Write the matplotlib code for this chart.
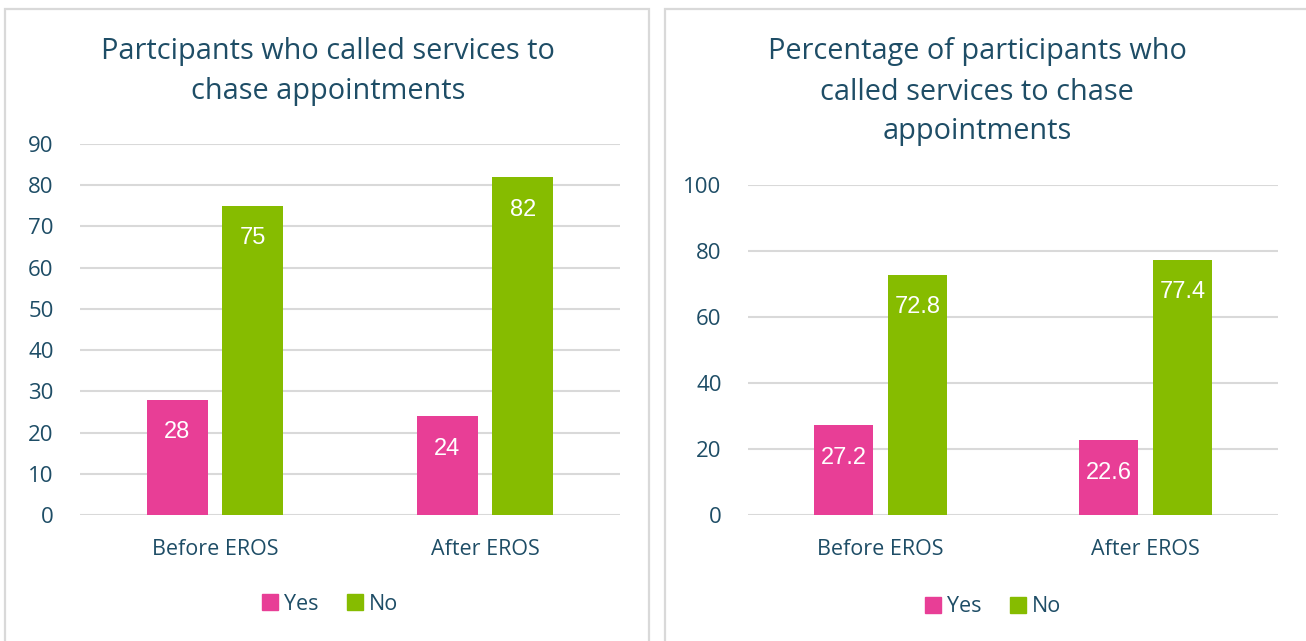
import matplotlib
matplotlib.use('Agg')
import matplotlib.pyplot as plt
from matplotlib.patches import Rectangle, Patch
import numpy as np

plt.rcParams['font.family'] = ['Open Sans', 'DejaVu Sans']

categories = ['Before EROS', 'After EROS']
series = ['Yes', 'No']
counts_yes = [28, 24]
counts_no = [75, 82]
pct_yes = [27.2, 22.6]
pct_no = [72.8, 77.4]

title_left = 'Partcipants who called services to\nchase appointments'
title_right = 'Percentage of participants who\ncalled services to chase\nappointments'
ticks_left = list(range(0, 91, 10))
ticks_right = list(range(0, 101, 20))

PINK = '#E83E96'
GREEN = '#86BC00'
TEXT = '#1E4D66'
GRID = '#D9D9D9'

W, H = 1306, 641
fig = plt.figure(figsize=(W / 100, H / 100), dpi=100)

# panel borders
for x0, x1 in [(5, 649), (665, 1312)]:
    fig.patches.append(Rectangle((x0 / W, -0.05), (x1 - x0) / W, 1.05 - 9 / H,
                                 transform=fig.transFigure, fill=False,
                                 edgecolor=GRID, lw=1.6))


def draw(ax, yes, no, ticks, ylim, fmt):
    x = np.arange(len(categories))
    w = 0.225
    b1 = ax.bar(x - 0.14, yes, w, color=PINK, label=series[0], zorder=3)
    b2 = ax.bar(x + 0.14, no, w, color=GREEN, label=series[1], zorder=3)
    for bars in (b1, b2):
        for r in bars:
            ax.annotate(fmt.format(r.get_height()),
                        (r.get_x() + r.get_width() / 2, r.get_height()),
                        xytext=(0, -23.5), textcoords='offset points',
                        ha='center', va='center', color='white',
                        fontsize=17, family=['Liberation Sans'], zorder=4)
    ax.set_xlim(-0.5, 1.5)
    ax.set_ylim(*ylim)
    ax.set_yticks(ticks)
    ax.set_xticks(x)
    ax.set_xticklabels(categories)
    ax.grid(axis='y', color=GRID, lw=1.5, zorder=0)
    for s in ax.spines.values():
        s.set_visible(False)
    ax.tick_params(axis='y', length=0, pad=19, labelsize=16, labelcolor=TEXT)
    ax.tick_params(axis='x', length=0, pad=17.5, labelsize=15.5, labelcolor=TEXT)


ax1 = fig.add_axes([80 / W, 1 - 515 / H, 540 / W, 371 / H])
draw(ax1, counts_yes, counts_no, ticks_left, (0, 90), '{:.0f}')
ax2 = fig.add_axes([748 / W, 1 - 515 / H, 530 / W, 330 / H])
draw(ax2, pct_yes, pct_no, ticks_right, (0, 100), '{:.1f}')

fig.text(328 / W, 1 - 72 / H, title_left, ha='center', va='center',
         fontsize=20.8, color=TEXT, linespacing=1.5)
fig.text(977 / W, 1 - 92 / H, title_right, ha='center', va='center',
         fontsize=20.8, color=TEXT, linespacing=1.5)

handles = [Patch(color=PINK, label='Yes'), Patch(color=GREEN, label='No')]
for cx, cy in [(330, 604), (993, 607)]:
    fig.legend(handles=handles, loc='center', bbox_to_anchor=(cx / W, 1 - cy / H),
               ncol=2, frameon=False, fontsize=15.5, labelcolor=TEXT,
               handlelength=0.75, handleheight=0.75, handletextpad=0.3,
               columnspacing=1.3)

fig.savefig('out.png', dpi=100)
